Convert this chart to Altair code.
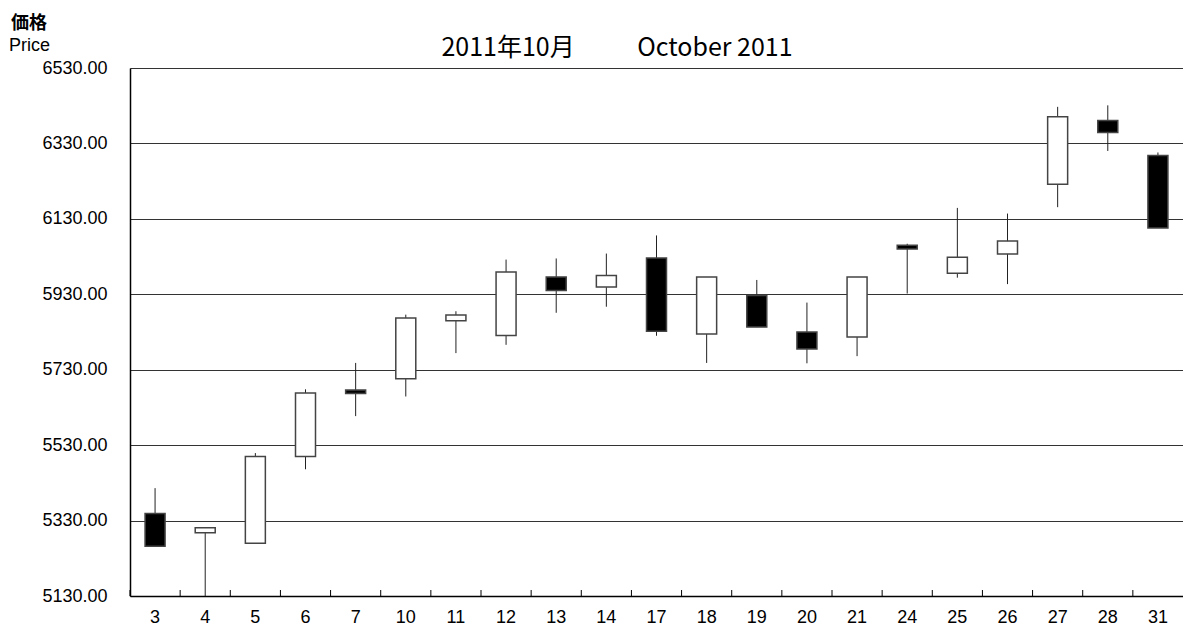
import altair as alt
import pandas as pd

days = ["3", "4", "5", "6", "7", "10", "11", "12", "13", "14", "17",
        "18", "19", "20", "21", "24", "25", "26", "27", "28", "31"]
open_ = [5349, 5298, 5270, 5500, 5676, 5706, 5860, 5821, 5976, 5949, 6026,
         5825, 5927, 5830, 5817, 6060, 5986, 6037, 6222, 6391, 6298]
high = [5416, 5311, 5509, 5678, 5748, 5876, 5885, 6022, 6025, 6038, 6086,
        5976, 5968, 5908, 5976, 6064, 6159, 6144, 6427, 6431, 6306]
low = [5262, 5130, 5270, 5466, 5607, 5659, 5774, 5796, 5881, 5897, 5820,
       5748, 5843, 5747, 5766, 5932, 5974, 5957, 6161, 6310, 6106]
close = [5262, 5311, 5500, 5668, 5667, 5867, 5875, 5989, 5940, 5980, 5832,
         5976, 5843, 5785, 5976, 6050, 6028, 6071, 6401, 6359, 6106]
y_ticks = [5130, 5330, 5530, 5730, 5930, 6130, 6330, 6530]

title_text = "2011年10月\u3000\u3000\u2002October 2011"

df = pd.DataFrame({"day": days, "open": open_, "high": high, "low": low, "close": close})

x_enc = alt.X("day:O", sort=days,
              scale=alt.Scale(paddingInner=0, paddingOuter=0),
              axis=alt.Axis(title=None, labelAngle=0, ticks=False,
                            labelFontSize=18, labelFont="Liberation Sans",
                            labelColor="black", labelPadding=12,
                            domainColor="black", domainWidth=1.5))
y_scale = alt.Scale(domain=[5130, 6530], nice=False, zero=False)

base = alt.Chart(df)

wick = base.mark_rule(color="#222", strokeWidth=1).encode(
    x=x_enc,
    y=alt.Y("low:Q", scale=y_scale,
            axis=alt.Axis(title=None, values=y_ticks, format=".2f", ticks=False,
                          labelFontSize=18, labelFont="Liberation Sans",
                          labelColor="black", labelPadding=23,
                          grid=True, gridColor="#333", gridWidth=1,
                          domainColor="black", domainWidth=1.5)),
    y2="high:Q",
)

body = base.mark_bar(width=20, stroke="#444", strokeWidth=1.5).encode(
    x=alt.X("day:O", sort=days),
    y=alt.Y("open:Q", scale=y_scale),
    y2="close:Q",
    fill=alt.condition(alt.datum.open > alt.datum.close, alt.value("black"), alt.value("white")),
)

xticks = base.mark_rule(color="black", strokeWidth=1).encode(
    x=alt.X("day:O", sort=days, bandPosition=0),
    y=alt.value(528),
    y2=alt.value(522),
)

title = alt.Chart(pd.DataFrame({"t": [title_text]})).mark_text(
    align="center", baseline="alphabetic", fontSize=25, font="Noto Sans CJK JP",
    color="black"
).encode(x=alt.value(487), y=alt.value(-12), text="t:N")

lab1 = alt.Chart(pd.DataFrame({"t": ["価格"]})).mark_text(
    align="left", baseline="alphabetic", fontSize=18, font="Noto Sans CJK JP",
    fontWeight="bold", color="black"
).encode(x=alt.value(-119), y=alt.value(-39), text="t:N")

lab2 = alt.Chart(pd.DataFrame({"t": ["Price"]})).mark_text(
    align="left", baseline="alphabetic", fontSize=18, font="Liberation Sans",
    color="black"
).encode(x=alt.value(-121), y=alt.value(-17), text="t:N")

chart = alt.layer(wick, body, xticks, title, lab1, lab2).properties(
    width=1053, height=528,
    autosize=alt.AutoSizeParams(type="none"),
    padding={"left": 122, "top": 60, "right": 0, "bottom": 30},
).configure_view(stroke=None).configure(background="white")

chart.save("out.html", embed_options={"renderer": "svg", "actions": False})
